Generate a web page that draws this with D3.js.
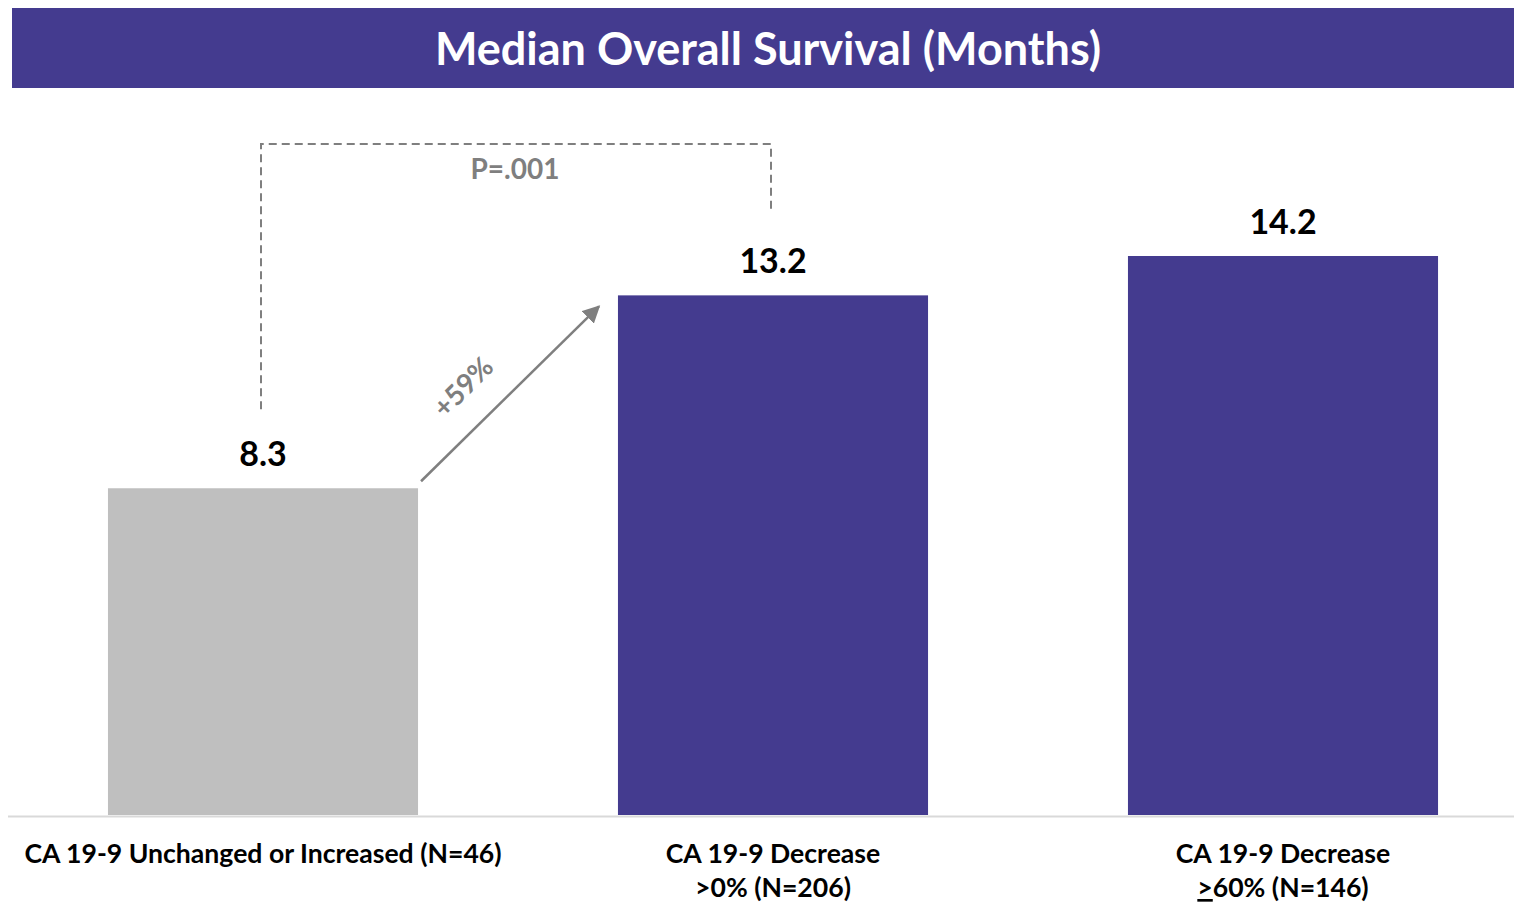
<!DOCTYPE html>
<html><head><meta charset="utf-8">
<script src="https://cdn.jsdelivr.net/npm/d3@7/dist/d3.min.js"></script>
<style>body{margin:0;background:#fff;} svg{display:block;font-family:Lato,"Open Sans",sans-serif;}</style>
</head><body>
<script>
const categories = ["Unchanged", "Decrease0", "Decrease60"];
const labelLine1 = ["CA 19-9 Unchanged or Increased (N=46)", "CA 19-9 Decrease", "CA 19-9 Decrease"];
const labelLine2 = ["", ">0% (N=206)", ">60% (N=146)"];
const values = [8.3, 13.2, 14.2];
const barColors = ["#bfbfbf", "#443b8f", "#443b8f"];
const title = "Median Overall Survival (Months)";
const pText = "P=.001";
const changeText = "+59%";

const W = 1514, H = 904;
const svg = d3.select("body").append("svg").attr("width", W).attr("height", H);

const x = d3.scaleBand().domain(categories).range([8, 1538]).paddingInner(0.392).paddingOuter(0.196);
const baseY = 815;
const y = d3.scaleLinear().domain([0, 14.2]).range([baseY, 256]);

// title bar
svg.append("rect").attr("x", 12).attr("y", 8).attr("width", 1502).attr("height", 80).attr("fill", "#443b8f");
svg.append("text").attr("x", 768).attr("y", 65).attr("text-anchor", "middle")
  .attr("fill", "#fff").attr("font-weight", "bold").attr("font-size", 45).text(title);

// bars
svg.selectAll("rect.bar").data(categories).join("rect").attr("class", "bar")
  .attr("x", d => x(d)).attr("width", x.bandwidth())
  .attr("y", (d, i) => y(values[i])).attr("height", (d, i) => baseY - y(values[i]))
  .attr("fill", (d, i) => barColors[i]);

// baseline
svg.append("line").attr("x1", 8).attr("x2", 1514).attr("y1", baseY + 1.5).attr("y2", baseY + 1.5)
  .attr("stroke", "#d9d9d9").attr("stroke-width", 2);

// value labels
svg.selectAll("text.val").data(categories).join("text").attr("class", "val")
  .attr("x", d => x(d) + x.bandwidth() / 2).attr("y", (d, i) => y(values[i]) - 22)
  .attr("text-anchor", "middle").attr("font-weight", "bold").attr("font-size", 34).attr("fill", "#000")
  .text((d, i) => values[i].toFixed(1));

// category labels
const cl = svg.selectAll("text.cat").data(categories).join("text").attr("class", "cat")
  .attr("text-anchor", "middle").attr("font-weight", "bold").attr("font-size", 26.6).attr("fill", "#000");
cl.append("tspan").attr("x", d => x(d) + x.bandwidth() / 2).attr("y", 863).text((d, i) => labelLine1[i]);
cl.each(function (d, i) {
  const s = labelLine2[i];
  if (!s) return;
  const t = d3.select(this).append("tspan").attr("x", x(d) + x.bandwidth() / 2).attr("y", 897);
  if (i === 2) {
    t.append("tspan").attr("text-decoration", "underline").text(s[0]);
    t.append("tspan").text(s.slice(1));
  } else t.text(s);
});

// dashed bracket
const c0 = x(categories[0]) + x.bandwidth() / 2, c1 = x(categories[1]) + x.bandwidth() / 2;
const topY = 144;
svg.append("path")
  .attr("d", `M${c0 - 2},${y(values[0]) - 79} V${topY} H${c1 - 2} V${y(values[1]) - 83}`)
  .attr("fill", "none").attr("stroke", "#7f7f7f").attr("stroke-width", 2).attr("stroke-dasharray", "8,5");
svg.append("text").attr("x", (c0 + c1) / 2 - 3).attr("y", 179).attr("text-anchor", "middle")
  .attr("font-weight", "bold").attr("font-size", 28).attr("fill", "#7f7f7f").text(pText);

// arrow
const defs = svg.append("defs");
defs.append("marker").attr("id", "ah").attr("viewBox", "0 0 10 10").attr("refX", 9).attr("refY", 5)
  .attr("markerWidth", 7).attr("markerHeight", 7).attr("markerUnits", "strokeWidth").attr("orient", "auto")
  .append("path").attr("d", "M0,0 L10,5 L0,10 z").attr("fill", "#7f7f7f");
const ax0 = x(categories[0]) + x.bandwidth() + 3, ay0 = y(values[0]) - 7;
const ax1 = x(categories[1]) - 19, ay1 = y(values[1]) + 11;
svg.append("line").attr("x1", ax0).attr("y1", ay0).attr("x2", ax1).attr("y2", ay1)
  .attr("stroke", "#7f7f7f").attr("stroke-width", 2.5).attr("marker-end", "url(#ah)");
svg.append("text").attr("transform", "translate(470,394) rotate(-45)").attr("text-anchor", "middle")
  .attr("font-weight", "bold").attr("font-size", 28).attr("fill", "#7f7f7f").text(changeText);
</script>
</body></html>
